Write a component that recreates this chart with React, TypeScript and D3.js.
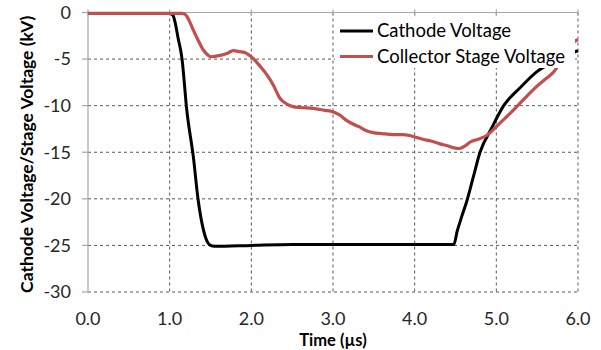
import React from "react";
import * as d3 from "d3";

const cathodeT = [0, 0.5, 1.0, 1.04, 1.07, 1.1, 1.15, 1.21, 1.29, 1.35, 1.41, 1.46, 1.5, 1.55, 2.0, 2.5, 3.0, 3.5, 4.0, 4.48, 4.52, 4.58, 4.64, 4.72, 4.8, 4.94, 5.09, 5.3, 5.49, 5.7, 5.85, 6.0];
const cathodeV = [-0.1, -0.1, -0.1, -0.3, -1.2, -2.6, -4.9, -10.5, -15.5, -20.2, -23.2, -24.6, -25.0, -25.1, -25.0, -24.9, -24.9, -24.9, -24.9, -24.9, -23.5, -21.8, -20.2, -17.6, -15.0, -12.45, -10.0, -8.0, -6.4, -5.3, -4.6, -4.1];

const collectorT = [0, 0.5, 1.0, 1.15, 1.19, 1.24, 1.29, 1.35, 1.41, 1.46, 1.51, 1.62, 1.7, 1.78, 1.86, 1.92, 2.0, 2.11, 2.2, 2.27, 2.35, 2.43, 2.51, 2.6, 2.76, 2.9, 2.98, 3.08, 3.17, 3.25, 3.33, 3.41, 3.49, 3.6, 3.74, 3.85, 3.94, 4.02, 4.1, 4.2, 4.31, 4.4, 4.47, 4.55, 4.62, 4.68, 4.78, 4.88, 4.96, 5.04, 5.15, 5.25, 5.35, 5.45, 5.58, 5.7, 5.82, 5.96, 6.0];
const collectorV = [-0.1, -0.1, -0.1, -0.1, -0.2, -0.9, -1.9, -3.0, -4.0, -4.5, -4.75, -4.6, -4.4, -4.1, -4.2, -4.3, -4.75, -5.8, -6.8, -7.8, -9.2, -9.8, -10.1, -10.2, -10.3, -10.5, -10.6, -11.0, -11.6, -12.0, -12.3, -12.7, -12.9, -13.0, -13.1, -13.1, -13.2, -13.4, -13.6, -13.8, -14.1, -14.3, -14.5, -14.6, -14.3, -13.9, -13.6, -13.2, -12.6, -11.9, -11.0, -10.1, -9.2, -8.3, -7.3, -6.4, -4.9, -3.1, -2.9];

const xTicks = [0, 1, 2, 3, 4, 5, 6];
const yTicks = [0, -5, -10, -15, -20, -25, -30];
const seriesNames = ["Cathode Voltage", "Collector Stage Voltage"];
const seriesColors = ["#000000", "#C0504D"];

const W = 601, H = 350;
const x = d3.scaleLinear().domain([0, 6]).range([88, 578]);
const y = d3.scaleLinear().domain([0, -30]).range([12.5, 292]);
const FONT = "Lato, 'Open Sans', sans-serif";

export default function App() {
  const line = d3.line<[number, number]>().x(d => x(d[0])).y(d => y(d[1])).curve(d3.curveMonotoneX);
  const cathode = cathodeT.map((t, i) => [t, cathodeV[i]] as [number, number]);
  const collector = collectorT.map((t, i) => [t, collectorV[i]] as [number, number]);
  return (
    <svg width={W} height={H} style={{ position: "absolute", left: 0, top: 0, background: "#fff" }}>
      {yTicks.filter(v => v !== 0).map(v => (
        <line key={"gy" + v} x1={x(0)} x2={x(6)} y1={y(v)} y2={y(v)} stroke="#595959" strokeWidth={1} strokeDasharray="3,3" />
      ))}
      {xTicks.filter(t => t !== 0).map(t => (
        <line key={"gx" + t} x1={x(t)} x2={x(t)} y1={y(0)} y2={y(-30)} stroke="#595959" strokeWidth={1} strokeDasharray="3,3" />
      ))}
      <line x1={x(0)} x2={x(0)} y1={y(0)} y2={y(-30)} stroke="#a6a6a6" strokeWidth={1.2} />
      <line x1={x(0)} x2={x(6)} y1={y(0)} y2={y(0)} stroke="#a6a6a6" strokeWidth={1.2} />
      {yTicks.map(v => (
        <line key={"ty" + v} x1={x(0) - 6} x2={x(0)} y1={y(v)} y2={y(v)} stroke="#a6a6a6" strokeWidth={1.2} />
      ))}
      {xTicks.map(t => (
        <line key={"tx" + t} x1={x(t)} x2={x(t)} y1={y(0) - 3} y2={y(0) + 3} stroke="#a6a6a6" strokeWidth={1.2} />
      ))}
      <path d={line(cathode) || ""} fill="none" stroke={seriesColors[0]} strokeWidth={3} strokeLinejoin="round" />
      <path d={line(collector) || ""} fill="none" stroke={seriesColors[1]} strokeWidth={3.2} strokeLinejoin="round" />
      {yTicks.map(v => (
        <text key={"ly" + v} x={71} y={y(v)} dy="0.35em" textAnchor="end" fontFamily={FONT} fontSize={18} fill="#262626">{v}</text>
      ))}
      {xTicks.map(t => (
        <text key={"lx" + t} x={x(t)} y={325} textAnchor="middle" fontFamily={FONT} fontSize={18} fill="#262626">{t.toFixed(1)}</text>
      ))}
      <text x={x(3)} y={346} textAnchor="middle" fontFamily={FONT} fontSize={16.5} fontWeight="bold" fill="#000">Time (µs)</text>
      <text transform={`translate(33,${(y(0) + y(-30)) / 2 + 2}) rotate(-90)`} textAnchor="middle" fontFamily={FONT} fontSize={17.5} fontWeight="bold" fill="#000">Cathode Voltage/Stage Voltage (kV)</text>
      <rect x={335} y={17} width={240} height={51} fill="#fff" />
      {seriesNames.map((n, i) => (
        <g key={n}>
          <line x1={340} x2={373} y1={31 + i * 25.5} y2={31 + i * 25.5} stroke={seriesColors[i]} strokeWidth={3} />
          <text x={377} y={31 + i * 25.5} dy="0.35em" fontFamily={FONT} fontSize={18.5} fill="#000">{n}</text>
        </g>
      ))}
    </svg>
  );
}
